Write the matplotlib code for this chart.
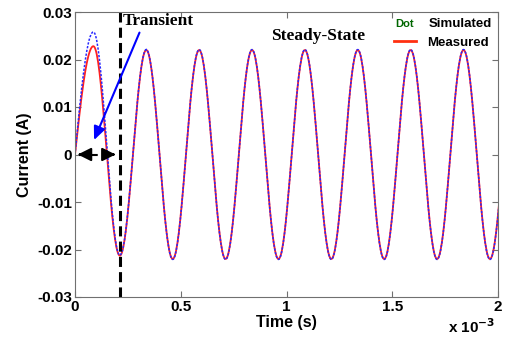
import numpy as np
import matplotlib.pyplot as plt

# extrema of the waveforms (time in ms, current in A)
sim_t = [0.0, 0.087, 0.212, 0.337, 0.462, 0.587, 0.712, 0.837, 0.962, 1.087,
         1.212, 1.337, 1.462, 1.587, 1.712, 1.837, 1.962, 2.087]
sim_i = [0.0, 0.0258, -0.0212, 0.0221, -0.0221, 0.0221, -0.0221, 0.0221, -0.0221, 0.0221,
         -0.0221, 0.0221, -0.0221, 0.0221, -0.0221, 0.0221, -0.0221, 0.0221]
meas_t = [0.0, 0.087, 0.212, 0.337, 0.462, 0.587, 0.712, 0.837, 0.962, 1.087,
          1.212, 1.337, 1.462, 1.587, 1.712, 1.837, 1.962, 2.087]
meas_i = [0.0, 0.0228, -0.0213, 0.0220, -0.0220, 0.0220, -0.0220, 0.0220, -0.0220, 0.0220,
          -0.0220, 0.0220, -0.0220, 0.0220, -0.0220, 0.0220, -0.0220, 0.0220]

xticks = [0, 0.5, 1, 1.5, 2]
yticks = [-0.03, -0.02, -0.01, 0, 0.01, 0.02, 0.03]
t_switch = 0.213  # end of transient (ms)


def smooth(ts, vs, n=40):
    # join the read extrema with half-cosine arcs (first arc is a quarter sine from zero)
    xs, ys = [], []
    for k in range(len(ts) - 1):
        s = np.linspace(0, 1, n)
        if k == 0:
            y = vs[1] * np.sin(np.pi / 2 * s)
        else:
            y = vs[k] + (vs[k + 1] - vs[k]) * (1 - np.cos(np.pi * s)) / 2
        xs.append(ts[k] + (ts[k + 1] - ts[k]) * s)
        ys.append(y)
    return np.concatenate(xs) * 1e-3, np.concatenate(ys)


plt.rcParams['font.family'] = 'Liberation Sans'
plt.rcParams['font.weight'] = 'bold'

fig = plt.figure(figsize=(5.07, 3.47), dpi=100)
ax = fig.add_axes([75 / 507, 50 / 347, 423 / 507, 285 / 347])

x, y = smooth(meas_t, meas_i)
ax.plot(x, y, color='#ff2020', lw=1.3)
x, y = smooth(sim_t, sim_i)
ax.plot(x, y, color='#2828ff', lw=1.1, ls=(0, (1.5, 1)))

ax.axvline(t_switch * 1e-3, color='black', lw=2.2, ls=(0, (3.3, 1.7)))

ax.set_xlim(0, 2e-3)
ax.set_ylim(-0.03, 0.03)
ax.set_xticks([v * 1e-3 for v in xticks])
ax.set_xticklabels([f'{v:g}' for v in xticks])
ax.set_yticks(yticks)
ax.set_yticklabels([f'{v:g}' for v in yticks])
ax.tick_params(direction='in', top=True, right=True, labelsize=11, length=4,
               color='#707070', pad=2)
for sp in ax.spines.values():
    sp.set_color('#707070')

ax.set_xlabel('Time (s)', fontsize=11.5, fontweight='bold', labelpad=1)
ax.set_ylabel('Current (A)', fontsize=11.5, fontweight='bold', labelpad=4)
fig.text(495 / 507, 1 - 333 / 347, r'x 10$^{\mathbf{-3}}$', ha='right', va='baseline',
         fontsize=11, fontweight='bold')

# transient annotations
ax.text(0.225e-3, 0.0273, 'Transient', family='Liberation Serif', fontsize=12.5,
        fontweight='bold', va='baseline')
ax.annotate('', xy=(0.085e-3, 0.0025), xytext=(0.31e-3, 0.0262),
            arrowprops=dict(arrowstyle='-|>,head_length=0.8,head_width=0.35',
                            color='blue', lw=1.5))
ax.plot([0.02e-3, 0.19e-3], [0, 0], color='black', lw=1.5, ls=(0, (3, 3)))
ax.annotate('', xy=(0.0, 0), xytext=(0.04e-3, 0),
            arrowprops=dict(arrowstyle='-|>,head_length=0.8,head_width=0.4',
                            color='black', lw=1.5))
ax.annotate('', xy=(0.205e-3, 0), xytext=(0.165e-3, 0),
            arrowprops=dict(arrowstyle='-|>,head_length=0.8,head_width=0.4',
                            color='black', lw=1.5))

ax.text(0.925e-3, 0.0241, 'Steady-State', family='Liberation Serif', fontsize=12.5,
        fontweight='bold', va='baseline')

# legend as drawn in the original
ax.text(1.515e-3, 0.0275, 'Dot', color='#006600', fontsize=8, fontweight='bold', va='center')
ax.text(1.67e-3, 0.0275, 'Simulated', color='black', fontsize=9.5, fontweight='bold', va='center')
ax.plot([1.51e-3, 1.61e-3], [0.0238, 0.0238], color='#ff3010', lw=2)
ax.text(1.665e-3, 0.0235, 'Measured', color='black', fontsize=9.5, fontweight='bold', va='center')

fig.savefig('out.png', dpi=100)
